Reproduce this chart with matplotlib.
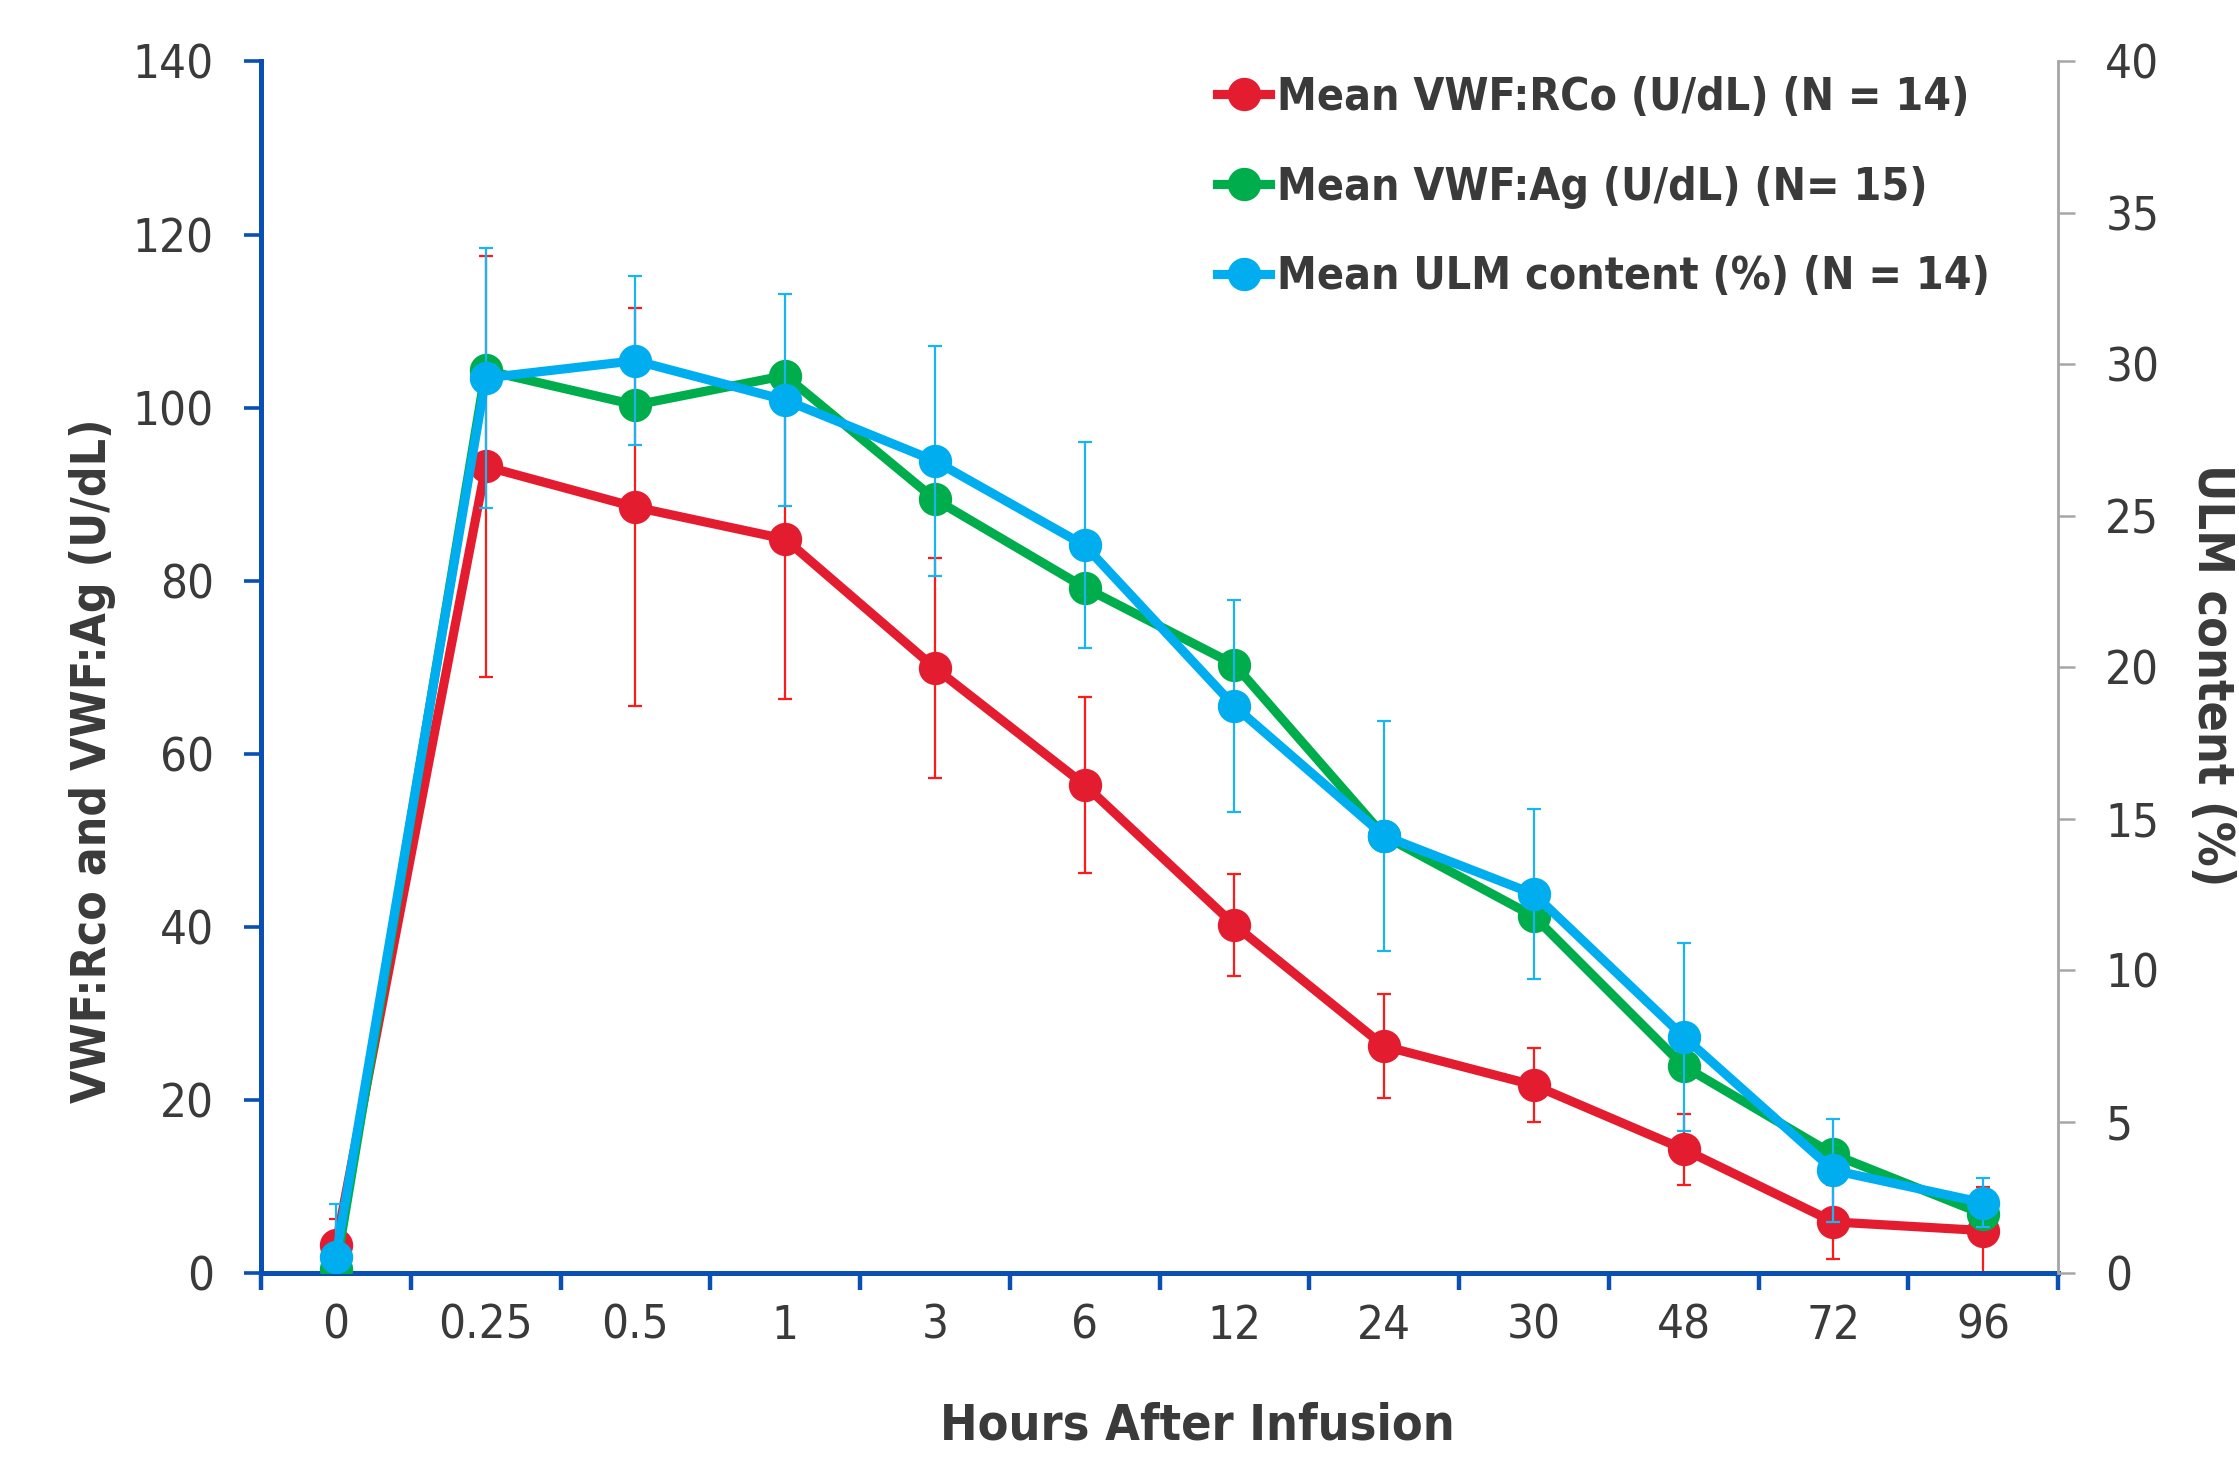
import matplotlib
matplotlib.use("Agg")
import matplotlib.pyplot as plt
from matplotlib.lines import Line2D
import numpy as np

plt.rcParams['font.family'] = ['DejaVu Sans']
plt.rcParams['font.stretch'] = 'condensed'

# sampling times (categorical x axis)
hours = ['0', '0.25', '0.5', '1', '3', '6', '12', '24', '30', '48', '72', '96']

# VWF:RCo (U/dL), mean and SD
rco_mean = [3.2, 93.2, 88.5, 84.8, 69.9, 56.4, 40.2, 26.2, 21.7, 14.3, 5.9, 4.9]
rco_sd = [3.0, 24.3, 23.0, 18.5, 12.7, 10.2, 5.9, 6.0, 4.3, 4.1, 4.3, 5.0]

# VWF:Ag (U/dL), mean only
ag_mean = [0.5, 104.3, 100.3, 103.7, 89.4, 79.2, 70.3, 50.5, 41.2, 23.9, 13.7, 6.8]

# ULM content (%), mean and SD (right axis)
ulm_mean = [0.54, 29.55, 30.12, 28.82, 26.81, 24.02, 18.71, 14.43, 12.51, 7.80, 3.39, 2.32]
ulm_sd = [1.74, 4.3, 2.8, 3.5, 3.8, 3.4, 3.5, 3.8, 2.8, 3.1, 1.7, 0.8]

labels = ['Mean VWF:RCo (U/dL) (N = 14)',
          'Mean VWF:Ag (U/dL) (N= 15)',
          'Mean ULM content (%) (N = 14)']

RED, GREEN, BLUE = '#E31C30', '#00AD4D', '#00ADEF'
RED_ERR, BLUE_ERR = '#FF1A1A', '#1AB4F0'
AXBLUE, GREY, TXT = '#0A4FB3', '#A6A6A6', '#3A3A3A'

x = np.arange(len(hours))
lw, ms = 3.3, 11

fig = plt.figure(figsize=(2239 / 200, 1459 / 200), dpi=200)
ax = fig.add_axes([0.1166, 0.1275, 0.8026, 0.8304])
ax2 = ax.twinx()

ax.errorbar(x, rco_mean, yerr=rco_sd, fmt='none', ecolor=RED_ERR,
            elinewidth=0.8, capsize=2.4, capthick=0.8, zorder=2)
ax.plot(x, rco_mean, '-o', color=RED, lw=lw, ms=ms, zorder=3)
ax.plot(x, ag_mean, '-o', color=GREEN, lw=lw, ms=ms, zorder=4)

ax2.errorbar(x, ulm_mean, yerr=ulm_sd, fmt='none', ecolor=BLUE_ERR,
             elinewidth=0.8, capsize=2.4, capthick=0.8, zorder=2)
ax2.plot(x, ulm_mean, '-o', color=BLUE, lw=lw, ms=ms, zorder=3)

ax.set_xlim(-0.5, len(hours) - 0.5)
ax.set_ylim(0, 140)
ax2.set_ylim(0, 40)
ax.set_yticks(np.arange(0, 141, 20))
ax2.set_yticks(np.arange(0, 41, 5))

ax.set_xticks(x)
ax.set_xticklabels(hours)
ax.set_xticks(np.arange(-0.5, len(hours), 1), minor=True)

for a in (ax, ax2):
    a.spines['top'].set_visible(False)
    a.set_facecolor('none')
ax.spines['right'].set_visible(False)
ax2.spines['left'].set_visible(False)
ax2.spines['bottom'].set_visible(False)
ax.spines['left'].set_color(AXBLUE)
ax.spines['left'].set_linewidth(1.8)
ax.spines['bottom'].set_color(AXBLUE)
ax.spines['bottom'].set_linewidth(1.8)
ax2.spines['right'].set_color(GREY)
ax2.spines['right'].set_linewidth(1.0)

tick_fs = 17
ax.tick_params(axis='y', direction='out', length=6, width=1.3,
               color=AXBLUE, labelsize=tick_fs, labelcolor=TXT, pad=11)
ax.tick_params(axis='x', which='major', length=0, labelsize=tick_fs,
               labelcolor=TXT, pad=11)
ax.tick_params(axis='x', which='minor', direction='out', length=6,
               width=1.6, color=AXBLUE)
ax2.tick_params(axis='y', direction='out', length=6, width=0.9,
                color=GREY, labelsize=tick_fs, labelcolor=TXT, pad=11)

fig.text(93 / 2239, 1 - 761 / 1459, 'VWF:Rco and VWF:Ag (U/dL)',
         rotation=90, ha='center', va='center', fontsize=17.2,
         fontweight='bold', color=TXT)
fig.text(2212 / 2239, 1 - 464 / 1459, 'ULM content (%)',
         rotation=270, ha='center', va='top', fontsize=18,
         fontweight='bold', color=TXT)
fig.text(1197 / 2239, 1 - 1425 / 1459, 'Hours After Infusion',
         ha='center', va='center', fontsize=18, fontweight='bold',
         color=TXT)

handles = [Line2D([], [], color=c, lw=lw, marker='o', ms=ms)
           for c in (RED, GREEN, BLUE)]
leg = ax2.legend(handles, labels, loc='upper left',
                 bbox_to_anchor=(1177 / 2239, 1 - 36 / 1459),
                 bbox_transform=fig.transFigure, frameon=False,
                 handlelength=1.2, handletextpad=0.15, labelspacing=1.05,
                 prop={'size': 16, 'weight': 'bold'})
for t in leg.get_texts():
    t.set_color(TXT)

fig.savefig('out.png', dpi=200)
